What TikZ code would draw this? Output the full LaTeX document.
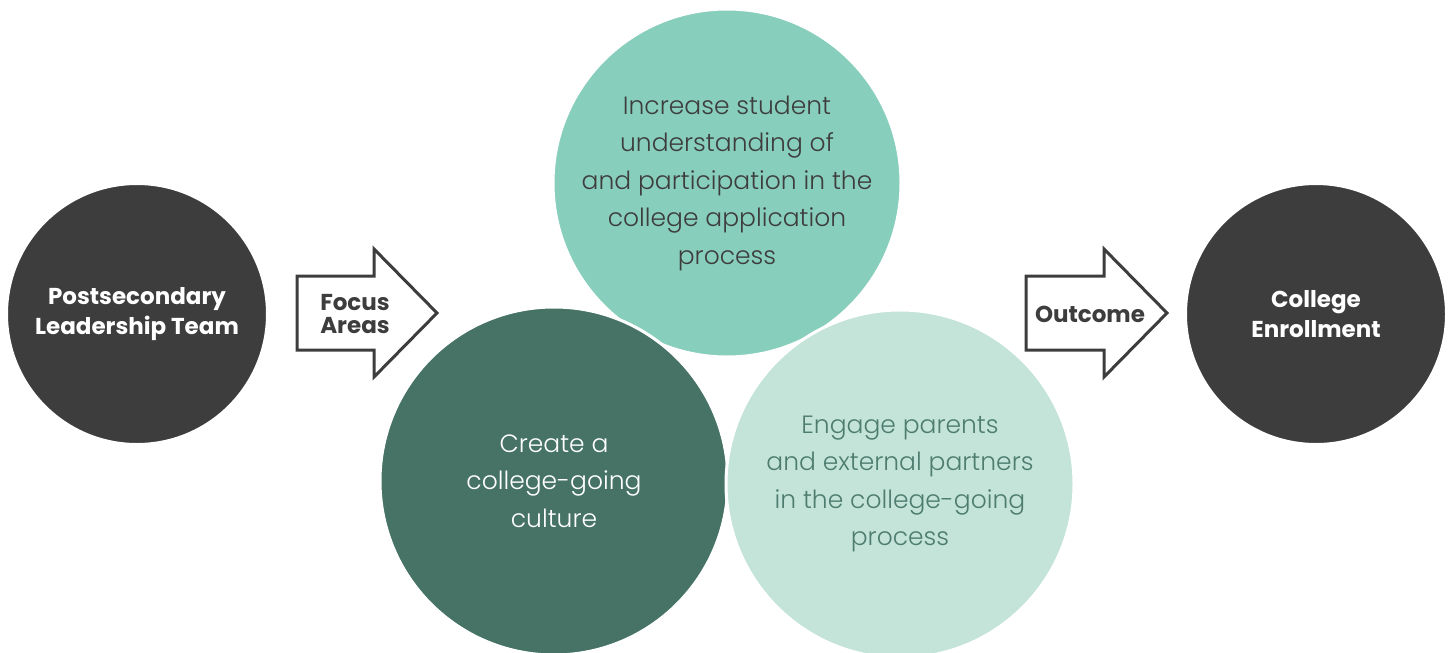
\documentclass[tikz,border=0pt]{standalone}
\usepackage{fontspec}
\setmainfont{Poppins}
\newfontfamily\lightfont{Poppins Light}
\definecolor{darkgrey}{HTML}{3D3D3D}
\definecolor{tealmid}{HTML}{88CEBC}
\definecolor{tealdark}{HTML}{467366}
\definecolor{teallight}{HTML}{C4E4D9}
\definecolor{tealtext}{HTML}{4E7D70}
\begin{document}
\begin{tikzpicture}[x=1pt,y=-1pt,
  endcircle/.style={circle, fill=darkgrey, draw=white, line width=2, minimum size=260, inner sep=0,
    text=white, align=center, font=\bfseries\fontsize{23}{30}\selectfont},
  focuscircle/.style={circle, draw=white, line width=3, minimum size=348, inner sep=0,
    align=center, font=\lightfont\fontsize{25}{37.5}\selectfont},
  arrowbox/.style={draw=darkgrey, line width=3, fill=white, line join=miter},
  arrowlabel/.style={text=darkgrey, align=center, font=\bfseries\fontsize{23}{23}\selectfont}]
\useasboundingbox (0,0) rectangle (1452,653);
% end circles
\node[endcircle] (team) at (137,314) {Postsecondary\\Leadership Team};
\node[endcircle] (enroll) at (1316,314) {College\\Enrollment};
% focus circles
\node[focuscircle, fill=tealmid, text=darkgrey] (apply) at (727,183)
  {Increase student\\understanding of\\and participation in the\\college application\\process};
\node[focuscircle, fill=tealdark, text=white] (culture) at (554,481)
  {Create a\\college-going\\culture};
\node[focuscircle, fill=teallight, text=tealtext] (parents) at (900,484)
  {Engage parents\\and external partners\\in the college-going\\process};
% arrows
\draw[arrowbox] (297,276) -- (374,276) -- (374,249) -- (437,313) -- (374,377) -- (374,350) -- (297,350) -- cycle;
\node[arrowlabel] (focus) at (355,314) {Focus\\Areas};
\draw[arrowbox] (1026,276) -- (1104,276) -- (1104,249) -- (1167,313) -- (1104,377) -- (1104,350) -- (1026,350) -- cycle;
\node[arrowlabel] (outcome) at (1090,314) {Outcome};
\end{tikzpicture}
\end{document}
